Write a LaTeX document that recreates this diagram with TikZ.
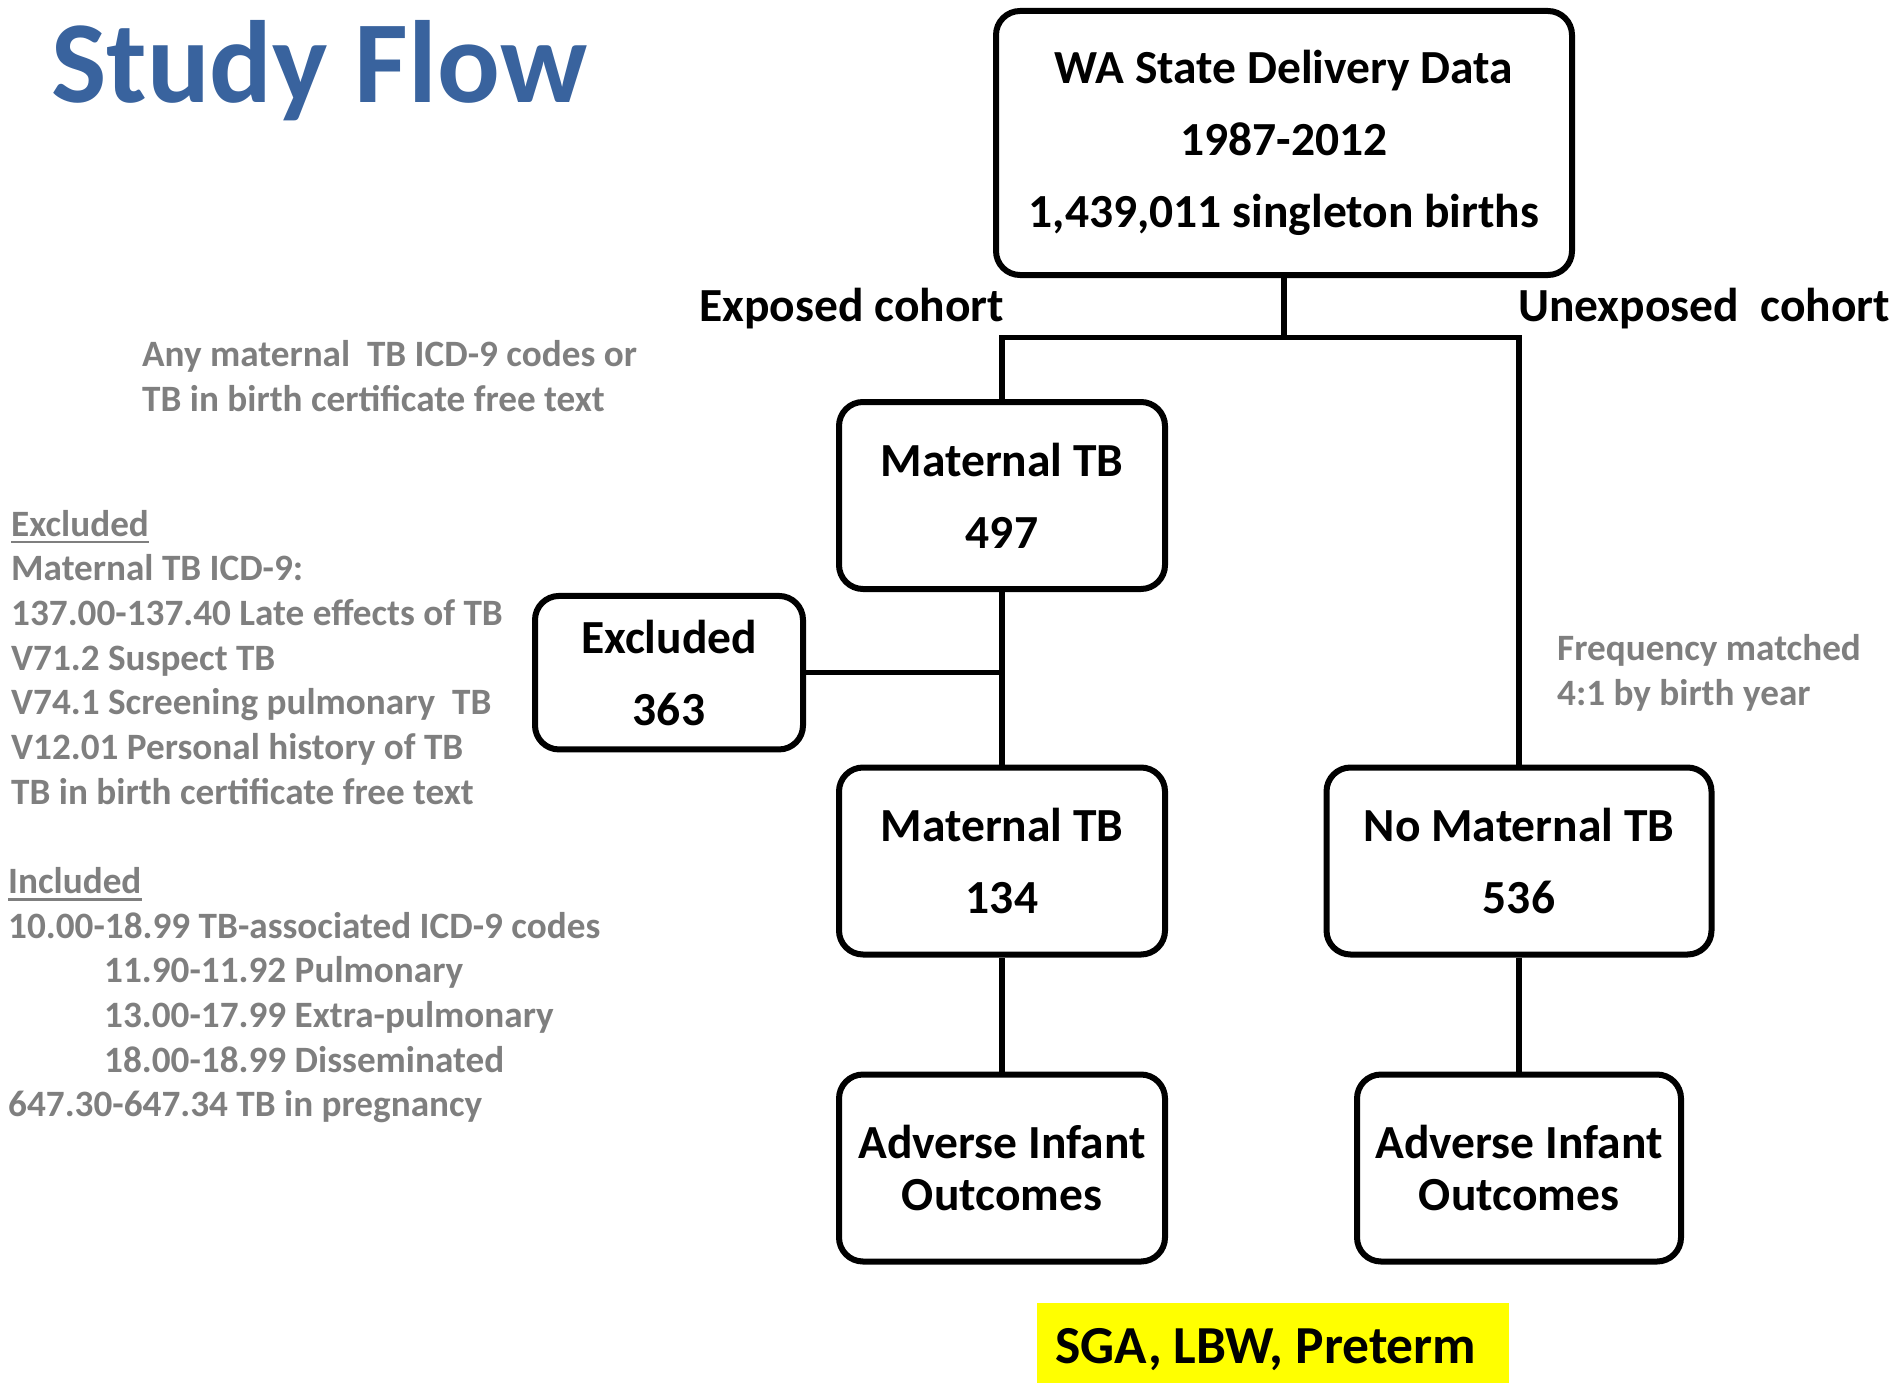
\documentclass[tikz,border=0pt]{standalone}
\usepackage{fontspec}
\setmainfont{Carlito}
\definecolor{titleblue}{RGB}{57,99,158}
\definecolor{txtgray}{RGB}{127,127,127}
\definecolor{hlyellow}{RGB}{255,255,0}
\begin{document}
\begin{tikzpicture}[x=1pt,y=-1pt,
  box/.style={draw=black, line width=6pt, rounded corners=24pt, fill=white, align=center, inner sep=0pt, font=\fontsize{47.5}{72}\selectfont\bfseries},
  advbox/.style={box, font=\fontsize{47.5}{52}\selectfont\bfseries},
  conn/.style={line width=5.5pt},
  graytxt/.style={anchor=base west, inner sep=0pt, text=txtgray, font=\fontsize{37.2}{44}\selectfont\bfseries},
  lbl/.style={anchor=base west, inner sep=0pt, font=\fontsize{47.5}{57}\selectfont\bfseries},
  uline/.style={txtgray, line width=2.5pt}]
\useasboundingbox (0,0) rectangle (1897,1383);

% title
\node[anchor=base west, inner sep=0pt, text=titleblue, font=\fontsize{117}{117}\selectfont\bfseries] (title) at (51,103) {Study Flow};

% boxes
\node[box, minimum width=576pt, minimum height=264pt] (wa) at (1284,143) {WA State Delivery Data\\1987-2012\\1,439,011 singleton births};
\node[box, minimum width=326pt, minimum height=187pt] (mat1) at (1002,495.5) {Maternal TB\\497};
\node[box, minimum width=268pt, minimum height=153.5pt] (excl) at (669,672.7) {Excluded\\363};
\node[box, minimum width=326pt, minimum height=187pt] (mat2) at (1002,861) {Maternal TB\\134};
\node[box, minimum width=385pt, minimum height=187pt] (nomat) at (1519,861) {No Maternal TB\\536};
\node[advbox, minimum width=326pt, minimum height=187pt] (adv1) at (1002,1168) {Adverse Infant\\Outcomes};
\node[advbox, minimum width=324pt, minimum height=187pt] (adv2) at (1519,1168) {Adverse Infant\\Outcomes};
\node[fill=hlyellow, inner sep=0pt, minimum width=472pt, minimum height=80pt, text height=40pt, text depth=0pt, font=\fontsize{53.5}{60}\selectfont\bfseries] (sga) at (1273,1343) {SGA, LBW, Preterm\kern14pt};

% cohort labels
\node[lbl] (expo) at (699,321) {Exposed cohort};
\node[lbl] (unexpo) at (1518,321) {Unexposed\ \ cohort};

% connectors
\coordinate (jt) at (1284,337.5);
\draw[conn] (wa.south) -- (jt);
\draw[conn] (mat1.north) -- (mat1.north |- jt) -- (nomat.north |- jt) -- (nomat.north);
\draw[conn] (mat1.south) -- (mat2.north);
\draw[conn] (excl.east) -- (excl.east -| mat1.south);
\draw[conn] (mat2.south) -- (adv1.north);
\draw[conn] (nomat.south) -- (adv2.north);

% gray notes
\node[graytxt] (any1) at (142,366.5) {Any maternal\ \ TB ICD-9 codes or};
\node[graytxt] (any2) at (142,411) {TB in birth certificate free text};

\node[graytxt] (exh) at (11,536) {Excluded};
\draw[uline] ([yshift=-6pt]exh.base west) -- ([yshift=-6pt]exh.base east);
\node[graytxt] (ex1) at (11,580.7) {Maternal TB ICD-9:};
\node[graytxt] (ex2) at (11,625.3) {137.00-137.40 Late effects of TB};
\node[graytxt] (ex3) at (11,670) {V71.2 Suspect TB};
\node[graytxt] (ex4) at (11,714.7) {V74.1 Screening pulmonary\ \ TB};
\node[graytxt] (ex5) at (11,759.4) {V12.01 Personal history of TB};
\node[graytxt] (ex6) at (11,804) {TB in birth certificate free text};

\node[graytxt] (inh) at (8,893.4) {Included};
\draw[uline] ([yshift=-6pt]inh.base west) -- ([yshift=-6pt]inh.base east);
\node[graytxt] (in1) at (8,938) {10.00-18.99 TB-associated ICD-9 codes};
\node[graytxt] (in2) at (104,982.7) {11.90-11.92 Pulmonary};
\node[graytxt] (in3) at (104,1027.4) {13.00-17.99 Extra-pulmonary};
\node[graytxt] (in4) at (104,1072) {18.00-18.99 Disseminated};
\node[graytxt] (in5) at (8,1116.7) {647.30-647.34 TB in pregnancy};

\node[graytxt] (freq1) at (1557,660.5) {Frequency matched};
\node[graytxt] (freq2) at (1557,705) {4:1 by birth year};
\end{tikzpicture}
\end{document}
